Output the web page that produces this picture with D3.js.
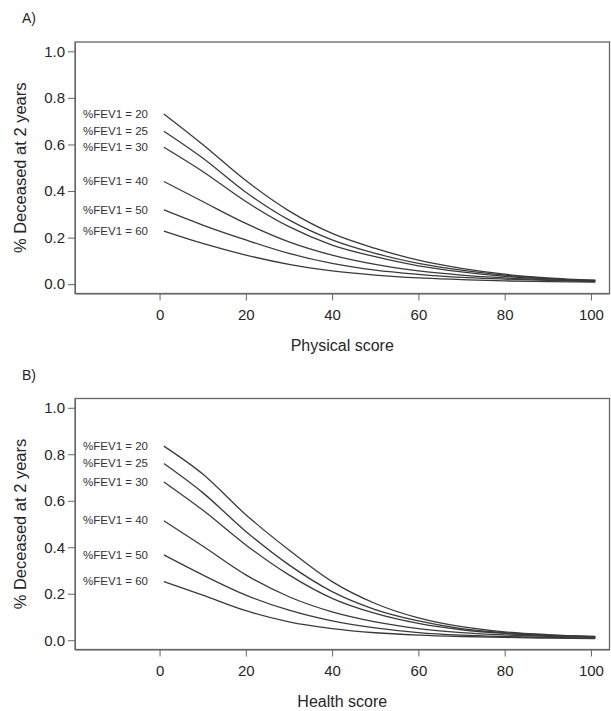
<!DOCTYPE html>
<html>
<head>
<meta charset="utf-8">
<script src="https://cdn.jsdelivr.net/npm/d3@7"></script>
<style>
  html, body { margin: 0; padding: 0; background: #fff; }
  svg { display: block; font-family: "Liberation Sans", Arial, sans-serif; }
</style>
</head>
<body>
<svg id="chart" width="611" height="711"></svg>
<script>
// ---------- data ----------
const scores = [1, 10, 20, 30, 40, 50, 60, 70, 80, 90, 101];
const fevLevels = [20, 25, 30, 40, 50, 60];

// Panel A: Physical score
const physFEV20 = [0.731, 0.600, 0.445, 0.315, 0.218, 0.154, 0.103, 0.068, 0.043, 0.027, 0.017];
const physFEV25 = [0.657, 0.542, 0.395, 0.276, 0.190, 0.132, 0.089, 0.060, 0.039, 0.024, 0.016];
const physFEV30 = [0.588, 0.484, 0.355, 0.247, 0.168, 0.118, 0.079, 0.053, 0.034, 0.023, 0.014];
const physFEV40 = [0.441, 0.355, 0.261, 0.182, 0.125, 0.085, 0.057, 0.039, 0.027, 0.019, 0.013];
const physFEV50 = [0.319, 0.254, 0.190, 0.132, 0.089, 0.060, 0.042, 0.029, 0.022, 0.016, 0.011];
const physFEV60 = [0.228, 0.175, 0.125, 0.085, 0.057, 0.039, 0.027, 0.020, 0.014, 0.011, 0.009];

// Panel B: Health score
const healthFEV20 = [0.835, 0.715, 0.540, 0.388, 0.252, 0.158, 0.096, 0.058, 0.036, 0.024, 0.016];
const healthFEV25 = [0.760, 0.635, 0.468, 0.324, 0.209, 0.132, 0.083, 0.050, 0.032, 0.022, 0.014];
const healthFEV30 = [0.681, 0.560, 0.410, 0.281, 0.180, 0.115, 0.072, 0.045, 0.029, 0.020, 0.013];
const healthFEV40 = [0.514, 0.405, 0.281, 0.187, 0.122, 0.079, 0.050, 0.033, 0.023, 0.017, 0.012];
const healthFEV50 = [0.367, 0.281, 0.194, 0.129, 0.083, 0.053, 0.033, 0.022, 0.016, 0.012, 0.009];
const healthFEV60 = [0.252, 0.194, 0.127, 0.079, 0.050, 0.032, 0.022, 0.016, 0.012, 0.009, 0.007];

const xTicks = [0, 20, 40, 60, 80, 100];
const yTicks = [0, 0.2, 0.4, 0.6, 0.8, 1.0];
const yTitle = "% Deceased at 2 years";

const panels = [
  { tag: "A)", xTitle: "Physical score",
    series: [physFEV20, physFEV25, physFEV30, physFEV40, physFEV50, physFEV60],
    top: 42, bottom: 293.5 },
  { tag: "B)", xTitle: "Health score",
    series: [healthFEV20, healthFEV25, healthFEV30, healthFEV40, healthFEV50, healthFEV60],
    top: 398.5, bottom: 649.5 }
];

// ---------- drawing ----------
const svg = d3.select("#chart");
const boxLeft = 75, boxRight = 609.5;
const ink = "#262626";
const lineCol = "#3a3a3a";

panels.forEach(p => {
  const h = p.bottom - p.top;
  const x = d3.scaleLinear().domain([-19.6, 104.3]).range([boxLeft, boxRight]);
  const y = d3.scaleLinear().domain([-0.04, 1.04]).range([p.bottom, p.top]);

  const g = svg.append("g");

  // axes
  const yAxis = d3.axisLeft(y).tickValues(yTicks).tickFormat(d3.format(".1f"))
    .tickSize(7).tickSizeOuter(0).tickPadding(3);
  const ya = g.append("g").attr("transform", `translate(${boxLeft},0)`).call(yAxis);
  ya.select(".domain").attr("stroke", "#666");
  ya.selectAll(".tick line").attr("stroke", "#666");
  ya.selectAll(".tick text").attr("font-size", 15).attr("fill", ink)
    .attr("font-family", "'Liberation Sans', Arial, sans-serif");

  const xAxis = d3.axisBottom(x).tickValues(xTicks).tickFormat(d3.format("d"))
    .tickSize(7).tickSizeOuter(0).tickPadding(9);
  const xa = g.append("g").attr("transform", `translate(0,${p.bottom})`).call(xAxis);
  xa.select(".domain").attr("stroke", "#666");
  xa.selectAll(".tick line").attr("stroke", "#666");
  xa.selectAll(".tick text").attr("font-size", 15).attr("fill", ink)
    .attr("font-family", "'Liberation Sans', Arial, sans-serif");

  // box
  g.append("rect")
    .attr("x", boxLeft).attr("y", p.top)
    .attr("width", boxRight - boxLeft).attr("height", h)
    .attr("fill", "none").attr("stroke", "#666").attr("stroke-width", 1.3);

  // curves
  const line = d3.line()
    .x((d, i) => x(scores[i]))
    .y(d => y(d))
    .curve(d3.curveMonotoneX);

  g.selectAll("path.curve").data(p.series).enter().append("path")
    .attr("class", "curve")
    .attr("d", line)
    .attr("fill", "none")
    .attr("stroke", lineCol)
    .attr("stroke-width", 1.3);

  // curve labels
  g.selectAll("text.lab").data(p.series).enter().append("text")
    .attr("class", "lab")
    .attr("x", 83)
    .attr("y", d => y(d[0]))
    .attr("dy", "0.35em")
    .attr("font-size", 10.5)
    .attr("font-family", "'Liberation Sans Narrow', 'Liberation Sans', Arial, sans-serif")
    .attr("textLength", 65)
    .attr("lengthAdjust", "spacingAndGlyphs")
    .attr("fill", "#333")
    .text((d, i) => `%FEV1 = ${fevLevels[i]}`);

  // panel tag
  g.append("text").attr("x", 22).attr("y", p.top - 19)
    .attr("font-size", 14).attr("fill", ink).text(p.tag);

  // x title
  g.append("text").attr("x", (boxLeft + boxRight) / 2 + 0).attr("y", p.bottom + 57)
    .attr("text-anchor", "middle").attr("font-size", 16).attr("fill", ink)
    .text(p.xTitle);

  // y title
  const cy = (y(0) + y(1)) / 2;
  g.append("text")
    .attr("transform", `translate(26,${cy}) rotate(-90)`)
    .attr("text-anchor", "middle").attr("font-size", 16.5).attr("fill", ink)
    .text(yTitle);
});
</script>
</body>
</html>
